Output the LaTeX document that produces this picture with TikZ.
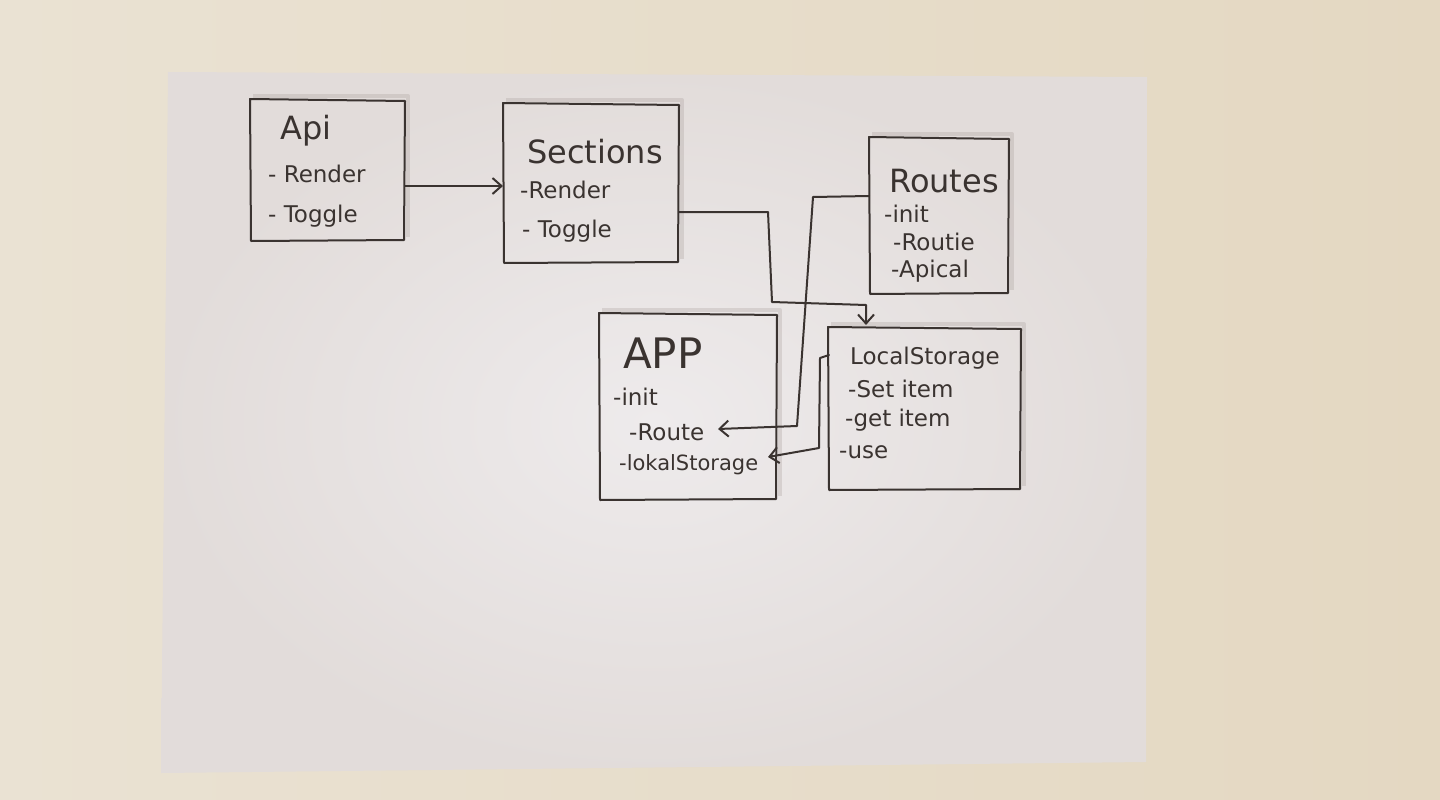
\documentclass[tikz,border=0pt]{standalone}
\usepackage{fontspec}
\setmainfont{DejaVu Sans}
\usetikzlibrary{arrows.meta,calc}
\definecolor{wall}{HTML}{E4D8C2}
\definecolor{wallhi}{HTML}{EAE2D3}
\definecolor{paper}{HTML}{EEEBEC}
\definecolor{paperedge}{HTML}{E2DCDA}
\definecolor{ink}{HTML}{3A3330}
\definecolor{shade}{HTML}{A89E9A}
\tikzset{
  ink/.style={draw=ink, line width=2pt, line join=round, line cap=round},
  boxshade/.style={draw=shade, line width=4pt, opacity=0.3, line join=round},
  wire/.style={ink, -{Straight Barb[length=9pt,width=16pt,line width=2pt]}},
  title/.style={text=ink, font=\fontsize{32}{32}\selectfont, inner sep=0pt, anchor=base west},
  item/.style={text=ink, font=\fontsize{23}{23}\selectfont, inner sep=0pt, anchor=base west},
}
\begin{document}
\begin{tikzpicture}[x=1pt,y=-1pt]
% wall and sheet of paper
\useasboundingbox (0,0) rectangle (1440,800);
\shade[left color=wallhi, right color=wall] (0,0) rectangle (1440,800);
\shade[inner color=paper, outer color=paperedge] (168,72) -- (1147,77) -- (1146,762) -- (161,773) -- cycle;

% box outlines with the soft pencil shadow behind them
\newcommand\handbox[5]{%
  \draw[boxshade] ($(#2,#3)+(3,-3)$) -- ($(#4,#3)+(3,-3)$) -- ($(#4,#5)+(3,-3)$);
  \draw[ink] (#2,#3) -- (#4,#3+2) -- (#4-1,#5) -- (#2+1,#5+1) -- cycle;
  \coordinate (#1) at ($0.5*(#2,#3)+0.5*(#4,#5)$);
}
\handbox{api}{250}{99}{405}{240}
\handbox{sec}{503}{103}{679}{262}
\handbox{rts}{869}{137}{1009}{293}
\handbox{app}{599}{313}{777}{499}
\handbox{lst}{828}{327}{1021}{489}

% Api
\node[title] (apiT) at (280,139) {Api};
\node[item] (apiR) at (268,182) {- Render};
\node[item] (apiG) at (268,222) {- Toggle};
% Sections
\node[title] (secT) at (527,163) {Sections};
\node[item] (secR) at (520,198) {-Render};
\node[item] (secG) at (522,237) {- Toggle};
% Routes
\node[title] (rtsT) at (889,192) {Routes};
\node[item] (rtsI) at (884,222) {-init};
\node[item] (rtsR) at (893,250) {-Routie};
\node[item] (rtsA) at (891,277) {-Apical};
% APP
\node[title, font=\fontsize{42}{42}\selectfont] (appT) at (623,368) {APP};
\node[item] (appI) at (613,405) {-init};
\node[item] (appR) at (629,440) {-Route};
\node[item, font=\fontsize{21}{21}\selectfont] (appL) at (619,470) {-lokalStorage};
% LocalStorage
\node[item] (lstT) at (850,364) {LocalStorage};
\node[item] (lstS) at (848,397) {-Set item};
\node[item] (lstG) at (845,426) {-get item};
\node[item] (lstU) at (839,458) {-use};

% connectors
\coordinate (p1) at (405,186);
\coordinate (p2) at (503,186);
\draw[wire] (p1) -- (p2);

\coordinate (s1) at (679,212);
\coordinate (lsTop) at (866,325);
\draw[wire] (s1) -- (768,212) -- (772,302) -- (866,305) -- (lsTop);

\coordinate (r1) at (869,196);
\coordinate (appRoute) at (718,429);
\draw[wire] (r1) -- (813,197) -- (797,426) -- (appRoute);

\coordinate (l1) at (829,355);
\coordinate (appLocal) at (768,457);
\draw[wire] (l1) -- (820,358) -- (819,448) -- (appLocal);
\end{tikzpicture}
\end{document}
